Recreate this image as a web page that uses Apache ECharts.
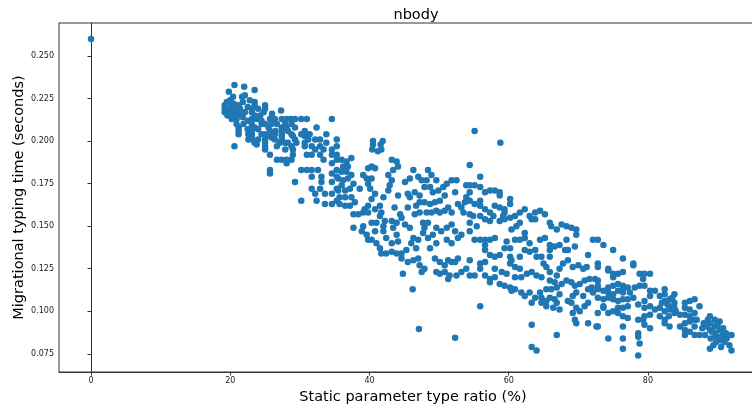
<!DOCTYPE html>
<html>
<head>
<meta charset="utf-8">
<script src="https://cdn.jsdelivr.net/npm/echarts@6/dist/echarts.min.js"></script>
<style>
html,body{margin:0;padding:0;background:#fff;}
#chart{width:752px;height:406px;}
</style>
</head>
<body>
<div id="chart"></div>
<script>
// ---- Data: [static parameter type ratio (%), migrational typing time (s)] ----
var chartTitle = "nbody";
var xAxisName = "Static parameter type ratio (%)";
var yAxisName = "Migrational typing time (seconds)";
var xTicks = [0, 20, 40, 60, 80];
var yTicks = [0.075, 0.100, 0.125, 0.150, 0.175, 0.200, 0.225, 0.250];

var outliers = [[0,0.260],[46.2,0.113],[47.1,0.0896],[52.3,0.0845],[55.1,0.206],[58.8,0.199],[63.3,0.079],[64.0,0.077]];

var groupA = [
[20.6,.233],[22.0,.232],[23.5,.230],[19.8,.229],[22.1,.227],
[20.4,.226],[20.0,.224],[22.8,.224],[23.5,.223],
[19.2,.221],[20.2,.221],[21.2,.221],[23.5,.221],[25.0,.221],
[19.2,.219],[20.0,.219],[20.7,.219],[21.4,.219],[23.1,.219],[25.0,.219],[24.0,.219],
[27.3,.218],
[19.2,.217],[19.7,.217],[20.4,.217],[21.2,.217],[22.1,.217],[23.1,.217],
[20.0,.215],[20.7,.215],[21.4,.215],[23.5,.215],[24.3,.215],
[20.2,.213],[20.9,.213],[23.1,.213],[23.8,.213],[25.7,.213],[26.4,.213],[27.4,.213],[28.1,.213],[28.7,.213],[29.3,.213],[30.2,.213],[31.0,.213],[34.6,.213],
[20.9,.210],[23.1,.210],[24.5,.210],[25.0,.210],[25.9,.210],[26.7,.210],[27.9,.210],[28.8,.210],
[21.2,.208],[23.1,.208],[23.5,.208],[25.5,.208],[27.4,.208],[28.1,.208],[29.3,.208],[32.4,.208],
[21.2,.206],[23.1,.206],[25.7,.206],[27.4,.206],[28.3,.206],[30.7,.206],
[21.2,.204],[22.6,.204],[23.1,.204],[25.0,.204],[26.4,.204],[27.4,.204],[28.8,.204],[30.2,.204],[31.0,.204],[31.4,.204],[33.8,.204],
[23.1,.203],[25.7,.203],[27.4,.203],[29.0,.203],[30.7,.203],
[22.6,.201],[23.1,.201],[25.0,.201],[26.4,.201],[27.4,.201],[29.3,.201],[31.2,.201],[32.2,.201],[32.9,.201],[35.3,.201],
[23.5,.199],[25.0,.199],[27.1,.199],[27.9,.199],[28.3,.199],[29.5,.199],[30.7,.199],[33.8,.199],
[20.6,.197],[25.0,.197],[26.7,.197],[28.8,.197],[30.7,.197],[31.7,.197],[32.9,.197],[35.3,.197],
[25.0,.195],[27.9,.195],[29.0,.195],[32.2,.195],[33.4,.195],[34.6,.195],
[25.7,.192],[29.0,.192],[31.0,.192],[31.7,.192],[32.9,.192],[34.6,.192],[35.3,.192],
[26.7,.189],[27.4,.189],[28.1,.189],[28.8,.189],[33.4,.189],[35.3,.189],
[28.1,.187],[34.6,.187],
[25.7,.183],[30.2,.183],[31.0,.183],[31.7,.183],[32.6,.183],[35.3,.183],
[25.7,.181],[34.6,.181],
[31.7,.179],[33.1,.179],[35.3,.179],
[29.3,.176],[33.1,.176],[34.6,.176],
[31.7,.172],[32.9,.172],[35.3,.172],
[32.2,.169],[33.6,.169],[34.6,.169],
[30.2,.165],[32.4,.165],[35.3,.165],
[33.6,.163],[34.6,.163],
[19.5,.223],[20.5,.222],[21.8,.223],[22.5,.220],[21.8,.214],[22.5,.212],[19.6,.215],[21.9,.210],
[22.5,.207],[24.0,.207],[24.5,.204],[24.0,.201],[23.8,.198],[24.5,.212],[24.8,.217],[26.0,.216],
[26.5,.206],[26.0,.202],[21.7,.226]
];

var groupB = [
[40.5,.200],[41.9,.200],[40.5,.198],[41.6,.198],[40.4,.195],[41.2,.194],[41.7,.195],
[36.0,.189],[36.7,.188],[37.4,.190],[36.2,.185],[36.9,.185],[36.0,.182],[36.7,.182],[37.4,.180],
[35.5,.178],[36.2,.177],[36.9,.178],[37.7,.175],[36.0,.174],[35.5,.171],[36.5,.171],[37.2,.172],
[35.7,.167],[36.5,.167],[37.4,.167],[35.7,.163],[36.5,.162],[37.2,.162],[37.9,.164],
[37.7,.157],[38.4,.157],[39.1,.158],[39.8,.158],[37.7,.149],[38.9,.147],[39.6,.145],[39.8,.142],
[40.3,.142],[41.0,.140],[41.5,.137],[41.7,.134],[42.4,.134],[43.2,.135],[43.9,.134],[44.6,.134],
[45.3,.136],[44.6,.131],[45.5,.129],[46.3,.130],[47.0,.131],[47.2,.127],[47.9,.125],[47.5,.123],
[44.8,.122],[49.4,.131],[50.1,.129],[50.8,.127],[51.3,.130],[51.8,.129],[52.3,.129],[52.7,.131],
[49.6,.123],[50.1,.122],[50.8,.123],[51.5,.121],[51.3,.119],[52.5,.121],[53.2,.123],[53.9,.125],
[39.8,.184],[40.3,.185],[40.8,.184],[39.1,.180],[39.6,.178],[40.3,.178],[39.8,.175],[38.6,.172],
[40.1,.172],[40.8,.169],[40.3,.166],[39.8,.162],[39.3,.160],[40.8,.160],[41.5,.162],[42.0,.167],
[41.7,.158],[41.5,.156],[42.2,.153],[42.0,.150],[42.0,.147],[40.8,.147],[41.0,.152],[40.3,.152],
[39.1,.150],[43.2,.189],[43.9,.188],[44.1,.185],[43.4,.183],[42.7,.180],[43.2,.177],[42.9,.174],
[42.7,.171],[44.1,.168],[43.6,.161],[44.4,.157],[44.6,.155],[43.9,.152],[43.2,.153],[43.4,.149],
[43.9,.145],[44.1,.141],[43.2,.140],[42.4,.143],[45.1,.176],[45.8,.178],[46.3,.183],[47.0,.179],
[47.5,.177],[48.2,.177],[48.9,.180],[49.6,.177],[48.4,.183],[45.5,.169],[45.8,.167],[46.5,.170],
[47.2,.168],[47.9,.173],[48.7,.173],[49.1,.170],[49.9,.171],[50.6,.173],[51.1,.175],[51.8,.177],
[52.5,.177],[52.3,.170],[50.8,.168],[50.1,.165],[49.4,.164],[48.7,.163],[47.9,.164],[47.2,.164],
[46.7,.162],[45.5,.161],[46.5,.157],[47.2,.158],[48.2,.158],[48.9,.158],[49.6,.159],[50.1,.158],
[50.8,.159],[51.3,.161],[51.8,.158],[52.7,.163],[53.2,.161],[53.9,.174],[53.9,.167],[53.7,.164],
[53.5,.158],[54.4,.170],[47.7,.152],[48.4,.152],[47.9,.149],[47.7,.146],[48.4,.143],[49.1,.145],
[49.6,.149],[50.3,.147],[51.1,.149],[51.8,.151],[52.3,.147],[52.7,.143],[53.2,.145],[51.1,.142],
[51.8,.140],[48.7,.137],[49.6,.140],[46.3,.143],[47.0,.142],[46.0,.140],[46.7,.137],[45.8,.149],
[45.1,.151]
];

var groupC = [
[54.4,.186],[55.9,.179],[54.4,.174],[55.1,.174],[55.9,.173],[56.6,.170],[57.3,.171],[58.0,.171],
[58.7,.170],[58.7,.168],[54.4,.165],[55.1,.163],[55.9,.165],[55.9,.162],[56.6,.160],[57.3,.158],
[58.0,.162],[58.7,.161],[59.4,.160],[60.2,.166],[60.2,.163],[59.4,.158],[59.2,.156],[58.7,.153],
[59.4,.154],[60.2,.155],[60.9,.156],[61.6,.158],[62.3,.160],[63.0,.156],[63.8,.158],[64.5,.159],
[65.2,.157],[65.9,.152],[63.8,.154],[63.3,.154],[61.6,.152],[61.1,.150],[60.4,.148],[66.1,.150],
[66.9,.148],[67.6,.151],[68.3,.150],[69.0,.149],[69.7,.148],[69.7,.145],[68.3,.142],[54.4,.157],
[54.9,.156],[55.9,.156],[56.6,.154],[57.3,.153],[57.8,.156],[54.4,.152],[55.4,.150],[54.4,.147],
[55.1,.142],[55.9,.142],[56.6,.142],[57.3,.142],[58.0,.143],[56.6,.139],[56.6,.136],[57.3,.133],
[58.0,.132],[58.7,.133],[59.7,.141],[59.4,.137],[60.2,.137],[60.9,.142],[61.6,.142],[62.3,.146],
[62.3,.143],[63.0,.140],[62.3,.136],[63.0,.135],[63.8,.136],[64.0,.132],[61.6,.132],[60.2,.132],
[60.2,.128],[60.9,.126],[61.6,.125],[60.4,.130],[64.5,.142],[65.2,.143],[65.9,.139],[66.6,.138],
[67.3,.139],[68.1,.136],[68.5,.136],[69.5,.138],[65.9,.136],[65.9,.132],[64.7,.132],[65.0,.128],
[65.4,.126],[65.9,.123],[66.9,.121],[67.3,.125],[67.8,.128],[68.5,.130],[69.2,.126],[70.0,.127],
[71.2,.126],[70.7,.125],[71.4,.133],[67.6,.116],[66.9,.114],[66.1,.113],[65.4,.113],[64.5,.111],
[64.7,.108],[65.4,.106],[63.8,.108],[63.0,.111],[62.3,.109],[61.8,.111],[60.9,.113],[60.2,.114],
[59.4,.115],[60.4,.112],[58.7,.116],[58.0,.120],[57.3,.119],[57.3,.117],[56.6,.121],[55.9,.125],
[55.1,.121],[54.4,.121],[54.4,.130],[55.9,.128],[56.6,.129],[58.0,.125],[59.0,.123],[59.7,.122],
[60.9,.120],[61.8,.120],[62.6,.122],[63.3,.123],[64.0,.121],[64.7,.120],[65.9,.118],[66.6,.117],
[68.3,.118],[69.0,.117],[69.5,.115],[70.2,.116],[70.9,.118],[71.6,.119],[72.4,.119],[71.9,.114],
[71.4,.113],[72.1,.111],[72.8,.114],[69.7,.111],[69.2,.109],[69.0,.105],[69.7,.102],[70.2,.100],
[70.9,.103],[71.4,.105],[70.7,.109],[69.2,.099],[69.5,.095],[69.7,.093],[71.4,.093],[72.6,.091],
[67.3,.110],[66.6,.107],[65.9,.108],[64.7,.105],[65.4,.103],[66.4,.102],[67.3,.101],[66.9,.105],
[63.3,.105],[68.5,.106],[55.9,.103],[63.3,.092],[66.9,.086]
];

var groupD = [
[72.8,.142],[72.1,.142],[73.6,.139],[75.0,.136],[76.4,.131],[77.9,.128],[77.9,.127],[72.8,.128],
[72.8,.126],[74.3,.125],[74.3,.124],[75.0,.122],[75.7,.122],[76.4,.123],[75.0,.120],[78.8,.122],
[79.5,.122],[80.3,.122],[79.3,.119],[78.8,.115],[79.5,.115],[78.1,.114],[77.1,.114],[76.4,.115],
[75.7,.116],[75.0,.115],[74.3,.114],[72.8,.118],[72.8,.115],[72.8,.113],[73.6,.112],[74.3,.111],
[75.0,.110],[75.7,.112],[76.4,.113],[76.4,.111],[77.4,.111],[77.9,.108],[77.1,.107],[76.4,.107],
[75.7,.106],[75.0,.107],[74.3,.108],[73.6,.107],[73.6,.103],[73.6,.102],[72.8,.108],[72.8,.099],
[74.3,.099],[75.0,.100],[75.7,.102],[76.4,.102],[77.1,.103],[76.4,.097],[77.1,.096],[75.7,.099],
[78.6,.104],[79.5,.106],[80.3,.109],[80.3,.112],[81.0,.112],[82.4,.113],[81.7,.109],[82.4,.110],
[83.8,.110],[83.1,.107],[82.4,.106],[83.1,.103],[83.8,.105],[79.5,.102],[80.3,.103],[81.0,.101],
[81.7,.102],[82.4,.100],[83.1,.101],[83.8,.099],[84.6,.098],[79.5,.097],[80.3,.098],[81.7,.097],
[82.4,.095],[79.3,.095],[78.6,.095],[79.5,.092],[80.3,.090],[82.4,.093],[83.1,.091],[83.8,.102],
[85.3,.105],[86.0,.106],[86.7,.107],[87.4,.103],[85.3,.102],[86.0,.101],[85.3,.098],[86.0,.097],
[86.7,.099],[86.0,.094],[86.7,.095],[85.3,.093],[86.7,.091],[85.3,.089],[86.0,.088],[85.3,.086],
[86.7,.086],[87.4,.086],[88.2,.086],[87.0,.095],[88.9,.097],[89.6,.095],[88.9,.093],[89.6,.091],
[90.3,.094],[88.9,.089],[89.6,.087],[90.3,.089],[90.8,.086],[89.8,.085],[90.5,.083],[91.3,.084],
[92.0,.086],[91.7,.080],[92.0,.077],[88.9,.078],[90.5,.079],[89.8,.082],[84.6,.091],[74.3,.084],
[76.4,.084],[76.4,.078],[78.6,.087],[78.6,.085],[78.8,.081],[78.6,.074],[76.4,.091],[72.8,.091],
[88.5,.091],[89.2,.088],[90.0,.092],[90.8,.090],[91.2,.087],[89.0,.084],[90.2,.085],[88.6,.095],
[91.0,.082],[89.4,.080],[87.8,.090],[88.0,.093],[82.8,.104],[83.5,.108],[84.0,.100],[82.0,.105],
[83.0,.097]
];

var pointColor = '#1f77b4';
var allPoints = groupA.concat(groupB, groupC, groupD, outliers);

var chart = echarts.init(document.getElementById('chart'), null, {renderer: 'canvas'});
var font = 'DejaVu Sans';
chart.setOption({
  animation: false,
  backgroundColor: '#fff',
  title: {
    text: chartTitle,
    left: 411,
    top: 3,
    textAlign: 'center',
    textStyle: {fontFamily: font, fontSize: 14.5, fontWeight: 'normal', color: '#000'}
  },
  grid: {
    left: 59, top: 23, width: 708, height: 349,
    outerBoundsMode: 'none',
    show: true, borderColor: '#333', borderWidth: 1, backgroundColor: 'transparent',
    containLabel: false
  },
  xAxis: {
    type: 'value',
    min: -4.6, max: 97.1,
    name: xAxisName,
    nameLocation: 'middle',
    nameGap: 17,
    nameTextStyle: {fontFamily: font, fontSize: 14.5, color: '#000', verticalAlign: 'top'},
    axisLine: {show: true, lineStyle: {color: '#333', width: 1}},
    axisTick: {show: true, inside: false, length: 3.5, lineStyle: {color: '#333'}, customValues: xTicks},
    axisLabel: {show: true, fontFamily: font, fontSize: 8, color: '#222', margin: 5, customValues: xTicks,
      formatter: function (v) { return String(v); }},
    splitLine: {show: false}
  },
  yAxis: {
    type: 'value',
    min: 0.0643, max: 0.2694,
    name: yAxisName,
    nameLocation: 'middle',
    nameGap: 40,
    nameMoveOverlap: false,
    nameTextStyle: {fontFamily: font, fontSize: 14.5, color: '#000', verticalAlign: 'middle'},
    axisLine: {show: true, lineStyle: {color: '#333', width: 1}},
    axisTick: {show: true, inside: false, length: 3.5, lineStyle: {color: '#333'}, customValues: yTicks},
    axisLabel: {show: true, fontFamily: font, fontSize: 8, color: '#222', margin: 5, customValues: yTicks,
      formatter: function (v) { return v.toFixed(3); }},
    splitLine: {show: false}
  },
  series: [{
    type: 'scatter',
    data: allPoints,
    symbol: 'circle',
    symbolSize: 6.5,
    itemStyle: {color: pointColor, opacity: 1},
    emphasis: {disabled: true}
  }]
});
</script>
</body>
</html>
